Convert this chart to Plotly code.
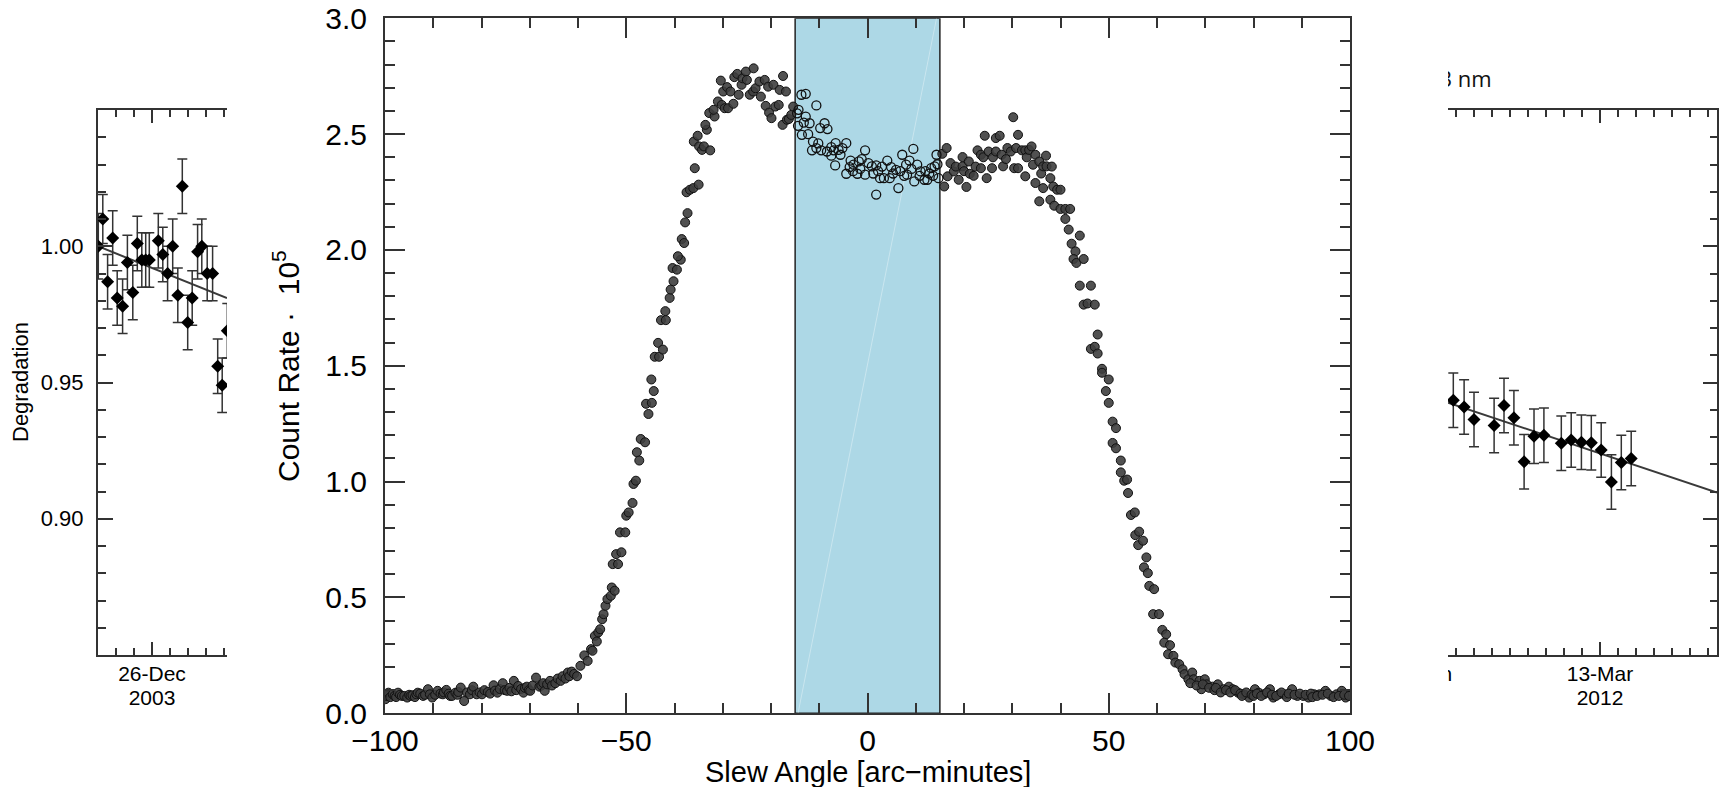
import plotly.graph_objects as go

W, H = 1723, 787

# ---------------- main panel data (slew scan) ----------------
slew_angle = [
    -99.9, -99.6, -99.3, -98.9, -98.4, -98.0, -97.7, -97.3, -96.9, -96.5, -96.0, -95.4, -95.0, -94.7, -94.3,
    -93.8, -93.5, -93.2, -92.7, -92.1, -91.7, -91.1, -90.7, -90.2, -89.6, -89.1, -88.5, -88.0, -87.8, -87.3,
    -86.8, -86.5, -86.1, -85.4, -85.0, -84.8, -84.3, -83.6, -83.0, -82.4, -82.0, -81.7, -81.0, -80.4, -79.9,
    -79.4, -78.7, -78.2, -77.5, -77.2, -76.7, -76.2, -75.6, -75.2, -74.7, -74.2, -73.8, -73.3, -72.8, -72.4,
    -71.8, -71.3, -71.0, -70.6, -70.2, -69.9, -69.4, -68.7, -68.0, -67.6, -67.2, -66.9, -66.4, -65.8, -65.4,
    -64.7, -64.2, -63.6, -63.2, -62.6, -62.1, -61.8, -61.3, -60.8, -60.2, -59.5, -58.7, -58.0, -57.3, -57.0,
    -56.5, -56.1, -55.8, -55.4, -55.0, -54.7, -54.3, -53.9, -53.2, -53.0, -52.4, -52.8, -52.1, -51.7, -51.3,
    -51.0, -50.2, -50.0, -49.5, -48.7, -48.5, -48.0, -47.8, -47.3, -47.0, -46.1, -45.9, -45.4, -44.7, -44.8,
    -44.3, -44.1, -43.2, -43.4, -42.4, -42.8, -41.8, -41.9, -41.0, -40.8, -40.2, -40.4, -39.5, -38.7, -39.3,
    -38.5, -38.0, -37.8, -37.3, -37.5, -36.8, -36.1, -35.0, -35.8, -36.0, -35.2, -34.9, -34.3, -33.9, -32.6,
    -33.3, -33.6, -32.8, -31.7, -31.9, -31.0, -30.2, -29.6, -28.9, -30.4, -29.9, -29.1, -28.4, -27.8, -27.6,
    -27.0, -26.7, -26.1, -25.9, -25.2, -25.0, -24.4, -23.6, -23.7, -23.2, -22.4, -22.1, -21.3, -21.1, -20.6,
    -20.4, -19.9, -19.5, -19.1, -18.4, -18.2, -17.5, -17.6, -16.9, -16.7, -16.3, -15.8, -15.4,
    -14.6, -14.4, -14.3, -13.7, -13.6, -13.2, -12.8, -12.8, -12.3, -12.0, -11.5, -11.3, -10.6, -10.6, -10.2,
    -9.8, -9.6, -8.9, -8.4, -8.3, -7.5, -7.5, -7.0, -6.7, -6.6, -6.0, -5.6, -5.2, -4.4, -4.4,
    -3.7, -3.5, -3.0, -2.9, -2.1, -1.8, -1.5, -1.2, -0.5, -0.5, 0.2, 0.9, 1.2, 1.8, 1.8,
    2.2, 2.6, 3.0, 3.4, 4.1, 4.6, 4.9, 5.3, 5.9, 6.4, 6.8, 7.2, 7.6, 8.0, 8.2,
    8.7, 9.1, 9.5, 9.7, 10.3, 10.8, 11.0, 11.8, 12.0, 12.4, 12.8, 13.2, 13.6, 13.9, 14.3, 14.5, 14.7,
    15.5, 15.9, 16.4, 16.6, 17.2, 17.9, 18.3, 18.9, 19.7, 19.7, 20.0, 20.5, 21.0, 21.2, 22.0,
    22.4, 22.8, 23.5, 23.5, 24.0, 24.3, 24.7, 25.1, 25.8, 26.0, 26.6, 26.6, 27.4, 27.8, 28.1,
    28.7, 29.0, 29.7, 30.2, 30.4, 30.8, 31.2, 31.2, 32.0, 32.7, 32.7, 33.0, 33.5, 34.0, 34.3,
    34.8, 34.8, 35.6, 35.6, 36.0, 36.4, 36.4, 37.0, 37.1, 37.9, 37.9, 38.2, 38.5, 38.7, 39.3,
    40.0, 40.0, 41.0, 42.0, 41.0, 41.7, 42.3, 44.0, 43.1, 42.7, 43.3, 44.8, 44.0, 46.3, 44.8,
    45.6, 47.1, 47.7, 46.3, 47.1, 47.7, 48.6, 48.6, 50.0, 49.4, 50.0, 50.8, 51.5, 50.8, 51.5,
    52.5, 52.5, 53.2, 53.8, 54.0, 54.6, 55.4, 55.5, 56.3, 56.1, 57.1, 57.8, 57.3, 58.1, 58.4,
    59.4, 59.2, 60.4, 61.1, 61.9, 61.5, 62.7, 62.3, 63.4, 63.8, 64.6, 65.3, 65.7, 66.5, 67.3,
    67.6, 68.8, 69.9, 70.3, 69.2, 71.5, 72.6, 73.8, 74.9, 75.7, 76.8, 78.0, 79.1, 80.3, 81.1,
    82.2, 83.4, 84.1, 85.3, 86.4, 88.0, 89.1, 90.3, 91.4, 92.6, 93.7, 94.9, 96.0, 97.2, 98.3,
    99.1, 99.5,
    66.9, 68.2, 69.5, 70.8, 71.9, 72.2, 73.2, 74.3, 75.2, 76.2, 77.3, 77.6, 78.5, 79.6, 80.0,
    80.7, 81.6, 82.8, 83.8, 84.7, 85.8, 86.9, 87.3, 88.5, 89.6, 90.8, 91.9, 92.2, 93.2, 94.3,
    95.4, 96.6, 97.7, 98.8, 99.8,
]
count_rate = [
    0.061, 0.075, 0.089, 0.070, 0.082, 0.075, 0.070, 0.089, 0.080, 0.075, 0.075, 0.068, 0.080, 0.075, 0.078,
    0.070, 0.082, 0.089, 0.085, 0.075, 0.080, 0.104, 0.082, 0.068, 0.080, 0.097, 0.085, 0.082, 0.090, 0.101,
    0.085, 0.075, 0.075, 0.089, 0.080, 0.092, 0.111, 0.053, 0.090, 0.082, 0.100, 0.115, 0.082, 0.090, 0.082,
    0.100, 0.092, 0.085, 0.121, 0.098, 0.089, 0.105, 0.130, 0.100, 0.097, 0.110, 0.095, 0.140, 0.100, 0.118,
    0.105, 0.089, 0.110, 0.115, 0.100, 0.097, 0.120, 0.154, 0.115, 0.120, 0.130, 0.097, 0.125, 0.140, 0.120,
    0.130, 0.150, 0.140, 0.160, 0.150, 0.176, 0.160, 0.180, 0.170, 0.160, 0.205, 0.250, 0.226, 0.277, 0.270,
    0.334, 0.310, 0.349, 0.363, 0.406, 0.428, 0.464, 0.493, 0.507, 0.543, 0.529, 0.644, 0.687, 0.644, 0.781,
    0.695, 0.781, 0.853, 0.867, 0.908, 0.990, 1.004, 1.127, 1.091, 1.184, 1.170, 1.336, 1.292, 1.340, 1.441,
    1.391, 1.539, 1.539, 1.599, 1.570, 1.697, 1.697, 1.736, 1.793, 1.829, 1.865, 1.922, 1.915, 1.958, 1.973,
    2.047, 2.030, 2.119, 2.159, 2.249, 2.260, 2.267, 2.282, 2.353, 2.468, 2.493, 2.447, 2.432, 2.447, 2.430,
    2.519, 2.540, 2.591, 2.576, 2.605, 2.641, 2.626, 2.612, 2.612, 2.731, 2.684, 2.703, 2.684, 2.631, 2.746,
    2.760, 2.670, 2.713, 2.741, 2.770, 2.734, 2.670, 2.784, 2.684, 2.698, 2.727, 2.662, 2.734, 2.622, 2.705,
    2.593, 2.569, 2.713, 2.619, 2.626, 2.691, 2.751, 2.540, 2.684, 2.562, 2.565, 2.583, 2.619,
    2.590, 2.536, 2.605, 2.670, 2.497, 2.550, 2.674, 2.576, 2.500, 2.547, 2.430, 2.468, 2.624, 2.440, 2.460,
    2.526, 2.430, 2.547, 2.425, 2.522, 2.444, 2.407, 2.430, 2.365, 2.461, 2.432, 2.411, 2.440, 2.461, 2.329,
    2.358, 2.386, 2.340, 2.368, 2.329, 2.382, 2.350, 2.392, 2.430, 2.325, 2.375, 2.361, 2.330, 2.365, 2.239,
    2.340, 2.310, 2.360, 2.310, 2.386, 2.310, 2.358, 2.330, 2.346, 2.267, 2.340, 2.411, 2.320, 2.368, 2.325,
    2.386, 2.350, 2.436, 2.296, 2.368, 2.320, 2.339, 2.303, 2.340, 2.303, 2.330, 2.353, 2.320, 2.361, 2.411, 2.370, 2.310,
    2.415, 2.274, 2.440, 2.318, 2.375, 2.339, 2.360, 2.303, 2.401, 2.361, 2.340, 2.272, 2.382, 2.329, 2.320,
    2.360, 2.430, 2.411, 2.353, 2.400, 2.493, 2.310, 2.425, 2.353, 2.400, 2.483, 2.425, 2.493, 2.411, 2.361,
    2.392, 2.440, 2.425, 2.573, 2.353, 2.440, 2.497, 2.353, 2.430, 2.430, 2.318, 2.400, 2.432, 2.447, 2.368,
    2.411, 2.289, 2.382, 2.210, 2.330, 2.361, 2.267, 2.407, 2.361, 2.310, 2.217, 2.360, 2.274, 2.191, 2.260,
    2.260, 2.177, 2.177, 2.177, 2.134, 2.088, 2.027, 2.062, 1.994, 1.961, 1.944, 1.961, 1.846, 1.846, 1.764,
    1.769, 1.764, 1.635, 1.573, 1.582, 1.553, 1.487, 1.470, 1.441, 1.391, 1.340, 1.259, 1.231, 1.167, 1.144,
    1.091, 1.040, 1.004, 1.009, 0.951, 0.856, 0.867, 0.769, 0.784, 0.726, 0.745, 0.673, 0.630, 0.605, 0.550,
    0.536, 0.428, 0.428, 0.360, 0.341, 0.305, 0.294, 0.255, 0.248, 0.219, 0.212, 0.190, 0.169, 0.147, 0.176,
    0.147, 0.140, 0.147, 0.125, 0.104, 0.115, 0.125, 0.104, 0.115, 0.104, 0.089, 0.082, 0.068, 0.104, 0.089,
    0.082, 0.104, 0.068, 0.082, 0.082, 0.104, 0.075, 0.075, 0.068, 0.082, 0.082, 0.097, 0.075, 0.082, 0.097,
    0.068, 0.082,
    0.130, 0.120, 0.125, 0.110, 0.100, 0.110, 0.090, 0.100, 0.090, 0.100, 0.085, 0.075, 0.090, 0.080, 0.075,
    0.085, 0.075, 0.090, 0.080, 0.075, 0.090, 0.070, 0.085, 0.080, 0.085, 0.080, 0.085, 0.070, 0.075, 0.080,
    0.085, 0.070, 0.075, 0.080, 0.075,
]
band_range = [-15, 15]
main_xticks = [-100, -50, 0, 50, 100]

# ---------------- left panel (degradation, 2003) ----------------
left_days = [-17.9, -16.4, -14.8, -13.1, -11.6, -9.8, -8.2, -6.4, -4.9, -3.4, -2.1, -0.9, 2.1, 3.6,
             5.2, 6.9, 8.6, 10.1, 11.9, 13.4, 15.2, 16.6, 18.4, 20.2, 21.9, 23.4, 25.1]
left_deg = [1.000, 1.010, 0.987, 1.003, 0.981, 0.978, 0.994, 0.983, 1.001, 0.995, 0.995, 0.995, 1.002, 0.997,
            0.990, 1.000, 0.982, 1.022, 0.972, 0.981, 0.998, 1.000, 0.990, 0.990, 0.956, 0.949, 0.969]
left_err = [0.012, 0.009, 0.010, 0.010, 0.010, 0.010, 0.010, 0.010, 0.010, 0.010, 0.010, 0.010, 0.010, 0.010,
            0.010, 0.010, 0.010, 0.010, 0.010, 0.010, 0.010, 0.010, 0.010, 0.010, 0.010, 0.010, 0.010]
left_fit_days = [-18, 25]
left_fit_deg = [1.000, 0.981]
left_ticks = [0.90, 0.95, 1.00]
left_date = ["26-Dec", "2003"]
left_ytitle = "Degradation"

# ---------------- right panel (degradation, 2012) ----------------
right_days = [-48.9, -45.3, -42.0, -35.3, -32.0, -28.7, -25.3, -22.0, -18.7, -12.9, -9.6, -6.2, -2.9,
              0.4, 3.8, 7.1, 10.4]
right_deg = [0.9435, 0.9410, 0.9364, 0.9342, 0.9416, 0.9371, 0.9209, 0.9303, 0.9306, 0.9277, 0.9289,
             0.9281, 0.9279, 0.9252, 0.9135, 0.9206, 0.9221]
right_err = [0.010] * 17
right_fit_days = [-50.67, 39.0]
right_fit_deg = [0.9426, 0.9096]
right_date_pos = [-60, 0]
right_date_text = ["13-Jan", "13-Mar"]
right_year = "2012"
right_title = "3 nm"


def px(p):
    return p / W


def py(p):
    return 1 - p / H


FONT = "Liberation Sans, Arial, sans-serif"
AX = "#333333"
ROW1, ROW2 = 676, 700
DATE_FONT = 21

fig = go.Figure()

# band
fig.add_shape(type="rect", xref="x", yref="y", x0=band_range[0], x1=band_range[1], y0=0, y1=3,
              fillcolor="#ADD8E6", line=dict(color="#222", width=1.5), layer="below")
fig.add_shape(type="line", xref="x", yref="y", x0=-14.4, y0=0, x1=14.3, y1=3.0,
              line=dict(color="rgba(255,255,255,0.35)", width=1), layer="below")

inside = [band_range[0] <= a <= band_range[1] for a in slew_angle]
fx = [x for x, i in zip(slew_angle, inside) if not i]
fy = [y for y, i in zip(count_rate, inside) if not i]
hx = [x for x, i in zip(slew_angle, inside) if i]
hy = [y for y, i in zip(count_rate, inside) if i]

fig.add_trace(go.Scatter(x=fx, y=fy, mode="markers", xaxis="x", yaxis="y",
                         marker=dict(symbol="circle", size=9, color="rgba(62,62,62,0.9)",
                                     line=dict(color="#111", width=1))))
fig.add_trace(go.Scatter(x=hx, y=hy, mode="markers", xaxis="x", yaxis="y",
                         marker=dict(symbol="circle-open", size=9, color="#111", line=dict(width=1.3))))

# left panel
fig.add_trace(go.Scatter(x=left_fit_days, y=left_fit_deg, mode="lines", xaxis="x2", yaxis="y2",
                         line=dict(color="#3a3a3a", width=2)))
fig.add_trace(go.Scatter(x=left_days, y=left_deg, mode="markers", xaxis="x2", yaxis="y2",
                         marker=dict(symbol="diamond", size=10, color="black"),
                         error_y=dict(type="data", array=left_err, color="#333", thickness=1.5, width=5)))
fig.add_trace(go.Scatter(x=[0, 0], y=[ROW1, ROW2], mode="text", text=left_date, xaxis="x2", yaxis="y4",
                         textposition="middle center", textfont=dict(family=FONT, size=DATE_FONT, color="black")))

# right panel
fig.add_trace(go.Scatter(x=right_fit_days, y=right_fit_deg, mode="lines", xaxis="x3", yaxis="y3",
                         line=dict(color="#3a3a3a", width=2)))
fig.add_trace(go.Scatter(x=right_days, y=right_deg, mode="markers", xaxis="x3", yaxis="y3",
                         marker=dict(symbol="diamond", size=10, color="black"),
                         error_y=dict(type="data", array=right_err, color="#333", thickness=1.5, width=5)))
fig.add_trace(go.Scatter(x=right_date_pos + right_date_pos, y=[ROW1, ROW1, ROW2, ROW2], mode="text",
                         text=right_date_text + [right_year, right_year], xaxis="x3", yaxis="y5",
                         textposition="middle center", textfont=dict(family=FONT, size=DATE_FONT, color="black")))
fig.add_trace(go.Scatter(x=[-53.5], y=[81], mode="text", text=[right_title], xaxis="x3", yaxis="y6",
                         textposition="middle right", textfont=dict(family="Open Sans", size=22, color="#111")))

common = dict(showline=True, linecolor=AX, linewidth=2, showgrid=False, zeroline=False,
              ticks="inside", tickcolor=AX, automargin=False)
hidden = dict(visible=False, showline=False, showgrid=False, zeroline=False, automargin=False)

layout = dict(
    width=W, height=H, margin=dict(l=0, r=0, t=0, b=0, pad=0, autoexpand=False),
    paper_bgcolor="white", plot_bgcolor="white", showlegend=False,
    font=dict(family=FONT, color="black"),
    xaxis=dict(domain=[px(385), px(1350)], range=[-100, 100], anchor="y", mirror="ticks",
               tickvals=main_xticks, ticklen=20, tickwidth=2, ticklabelstandoff=0,
               tickfont=dict(size=30, family=FONT, color="black"),
               minor=dict(ticks="inside", ticklen=10, tickwidth=2, tickcolor=AX, dtick=10, tick0=0), **common),
    yaxis=dict(domain=[py(713.3), py(18.3)], range=[0, 3], anchor="x", mirror="ticks",
               tickmode="linear", tick0=0, dtick=0.5, tickformat=".1f", ticklen=20, tickwidth=2,
               ticklabelstandoff=10, tickfont=dict(size=30, family=FONT, color="black"),
               minor=dict(ticks="inside", ticklen=10, tickwidth=2, tickcolor=AX, dtick=0.1, tick0=0), **common),
    xaxis2=dict(domain=[px(98), px(227)], range=[-18, 25], anchor="y2", mirror="ticks",
                tickvals=[0], showticklabels=False, ticklen=13, tickwidth=1.5,
                minor=dict(ticks="inside", ticklen=7, tickwidth=1.5, tickcolor=AX, dtick=6, tick0=0), **common),
    yaxis2=dict(domain=[py(655), py(110)], range=[0.85, 1.05], anchor="x2", mirror=False,
                tickvals=left_ticks, tickformat=".2f", ticklen=15, tickwidth=1.5, ticklabelstandoff=8,
                tickfont=dict(size=22, family=FONT, color="black"),
                minor=dict(ticks="inside", ticklen=7.5, tickwidth=1.5, tickcolor=AX, dtick=0.01, tick0=0.85), **common),
    xaxis3=dict(domain=[px(1448), px(1717)], range=[-50.67, 39.0], anchor="y3", mirror="ticks",
                tickvals=[0], showticklabels=False, ticklen=13, tickwidth=1.5,
                minor=dict(ticks="inside", ticklen=7, tickwidth=1.5, tickcolor=AX, dtick=6, tick0=0), **common),
    yaxis3=dict(domain=[py(655), py(110)], range=[0.85, 1.05], anchor="x3", side="right", mirror=False,
                tickvals=[0.85, 0.90, 0.95, 1.00, 1.05], showticklabels=False, ticklen=14, tickwidth=1.5,
                minor=dict(ticks="inside", ticklen=7, tickwidth=1.5, tickcolor=AX, dtick=0.01, tick0=0.85), **common),
    yaxis4=dict(domain=[py(715), py(656)], range=[715, 656], anchor="x2", **hidden),
    yaxis5=dict(domain=[py(715), py(656)], range=[715, 656], anchor="x3", **hidden),
    yaxis6=dict(domain=[py(100), py(62)], range=[100, 62], anchor="x3", **hidden),
    annotations=[
        dict(text="Slew Angle [arc\u2212minutes]", xref="paper", yref="paper", x=px(867.5), y=py(772),
             xanchor="center", yanchor="middle", showarrow=False, font=dict(size=29, family=FONT, color="black")),
        dict(text="Count Rate \u00b7  10<sup>5</sup>", xref="paper", yref="paper", x=px(286), y=py(366),
             xanchor="center", yanchor="middle", textangle=-90, showarrow=False,
             font=dict(size=30, family=FONT, color="black")),
        dict(text=left_ytitle, xref="paper", yref="paper", x=px(20), y=py(382), xanchor="center",
             yanchor="middle", textangle=-90, showarrow=False, font=dict(size=22, family=FONT, color="black")),
    ],
)
fig.update_layout(**layout)
fig.write_html("out.html")
